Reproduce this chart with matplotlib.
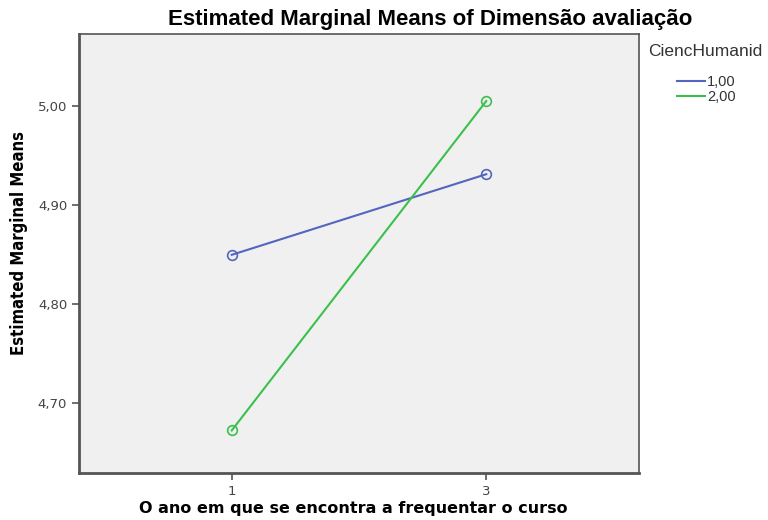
import numpy as np
import matplotlib
matplotlib.use("Agg")
from matplotlib import pyplot as plt

# data
years = [1, 3]
year_labels = ["1", "3"]
groups = ["1,00", "2,00"]
means_g1 = [4.8495, 4.931]
means_g2 = [4.672, 5.005]
colors = ["#5465c0", "#3cc04c"]

fig = plt.figure(figsize=(7.68, 5.2), dpi=100)
ax = fig.add_axes([79/768, 1-473/520, (639-79)/768, (473-34)/520])
ax.set_facecolor("#f0f0f0")

for vals, lab, c in zip([means_g1, means_g2], groups, colors):
    ax.plot(years, vals, color=c, lw=1.5, marker="o", ms=7,
            mfc="none", mec=c, mew=1.2, label=lab)

ax.set_xlim(-0.2, 4.2)
ax.set_ylim(4.629, 5.0727)
ax.set_xticks(years)
ax.set_xticklabels(year_labels)
yt = [4.70, 4.80, 4.90, 5.00]
ax.set_yticks(yt)
ax.set_yticklabels([("%.2f" % v).replace(".", ",") for v in yt])
ax.tick_params(axis="both", direction="out", length=5, width=1.2,
               color="#555555", labelsize=9.5, labelcolor="#444444")

for s in ax.spines.values():
    s.set_color("#555555")
    s.set_linewidth(1.2)
ax.spines["left"].set_linewidth(2)
ax.spines["bottom"].set_linewidth(2)

fig.text(430/768, 1-19/520, "Estimated Marginal Means of Dimensão avaliação",
         ha="center", va="center", fontsize=16, fontweight="bold",
         family=["Liberation Sans", "DejaVu Sans"])
fig.text(353/768, 1-509/520, "O ano em que se encontra a frequentar o curso",
         ha="center", va="center", fontsize=11.5, fontweight="bold",
         family="DejaVu Sans")
fig.text(19/768, 1-243/520, "Estimated Marginal Means", rotation=90,
         ha="center", va="center", fontsize=12, fontweight="bold",
         fontstretch="condensed", family="DejaVu Sans")

fig.text(648/768, 1-51/520, "CiencHumanid", ha="left", va="center",
         fontsize=12.5, color="#333333", family=["Liberation Sans", "DejaVu Sans"])
leg = ax.legend(loc="upper left", bbox_to_anchor=(677/768, 1-75/520),
                bbox_transform=fig.transFigure, frameon=False,
                handlelength=1.9, handletextpad=0.15, labelspacing=0.05,
                borderaxespad=0, borderpad=0,
                prop={"family": ["Liberation Sans", "DejaVu Sans"], "size": 10.5})
for h in leg.get_lines():
    h.set_marker("")
for t in leg.get_texts():
    t.set_color("#333333")

fig.savefig("out.png", dpi=100)
